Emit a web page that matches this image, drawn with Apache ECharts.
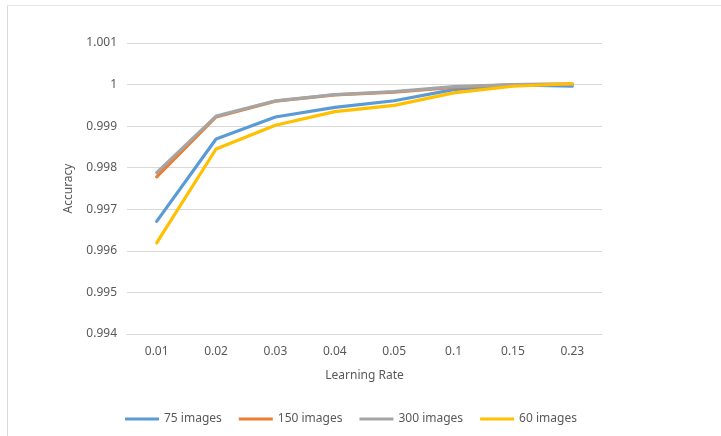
<!DOCTYPE html>
<html><head><meta charset="utf-8">
<script src="https://cdn.jsdelivr.net/npm/echarts@6/dist/echarts.min.js"></script>
<style>
html,body{margin:0;padding:0;background:#fff;}
#frame{position:absolute;left:7px;top:5px;width:714px;height:431px;border-left:1px solid #d9d9d9;border-top:1px solid #e6e6e6;}
#c{position:absolute;left:0;top:0;width:721px;height:436px;}
</style></head>
<body>
<div id="frame"></div>
<div id="c"></div>
<script>
const categories = ['0.01','0.02','0.03','0.04','0.05','0.1','0.15','0.23'];
const s75  = [0.99671, 0.99869, 0.99922, 0.99945, 0.99961, 0.99988, 0.99999, 0.99996];
const s150 = [0.99778, 0.99922, 0.99960, 0.99975, 0.99982, 0.99993, 1.00000, 1.00001];
const s300 = [0.99788, 0.99924, 0.99961, 0.99976, 0.99983, 0.99995, 1.00000, 1.00001];
const s60  = [0.99619, 0.99845, 0.99902, 0.99935, 0.99950, 0.99980, 0.99996, 1.00002];
const seriesNames = ['75 images','150 images','300 images','60 images'];
const colors = ['#5B9BD5','#ED7D31','#A5A5A5','#FFC000'];
const font = 'Noto Sans';
const chart = echarts.init(document.getElementById('c'));
const mk = (name, data, color) => ({
  name, type:'line', data, symbol:'none', smooth:false,
  lineStyle:{width:3.2, color, cap:'round', join:'round'}, itemStyle:{color}
});
chart.setOption({
  animation:false,
  color: colors,
  grid:{left:127, right:119, top:43, bottom:102},
  legend:{
    bottom:6, left:120, icon:'rect', itemWidth:34, itemHeight:3, itemGap:17,
    textStyle:{color:'#595959', fontSize:12, fontFamily:font},
    data: seriesNames
  },
  xAxis:{
    type:'category', data:categories, boundaryGap:true,
    name:'Learning Rate', nameLocation:'middle', nameGap:36,
    nameTextStyle:{color:'#595959', fontSize:12, fontFamily:font},
    axisLine:{lineStyle:{color:'#d9d9d9'}}, axisTick:{show:false},
    axisLabel:{color:'#595959', fontSize:12, fontFamily:font, margin:12}
  },
  yAxis:{
    type:'value', min:0.994, max:1.001, interval:0.001,
    name:'Accuracy', nameLocation:'middle', nameGap:52,
    nameTextStyle:{color:'#595959', fontSize:12, fontFamily:font},
    axisLine:{show:false}, axisTick:{show:false},
    splitLine:{lineStyle:{color:'#d9d9d9'}},
    axisLabel:{color:'#595959', fontSize:12, fontFamily:font, margin:10,
      formatter:v=>String(parseFloat(v.toFixed(3)))}
  },
  series:[mk(seriesNames[0], s75, colors[0]), mk(seriesNames[1], s150, colors[1]),
          mk(seriesNames[2], s300, colors[2]), mk(seriesNames[3], s60, colors[3])]
});
</script>
</body></html>
